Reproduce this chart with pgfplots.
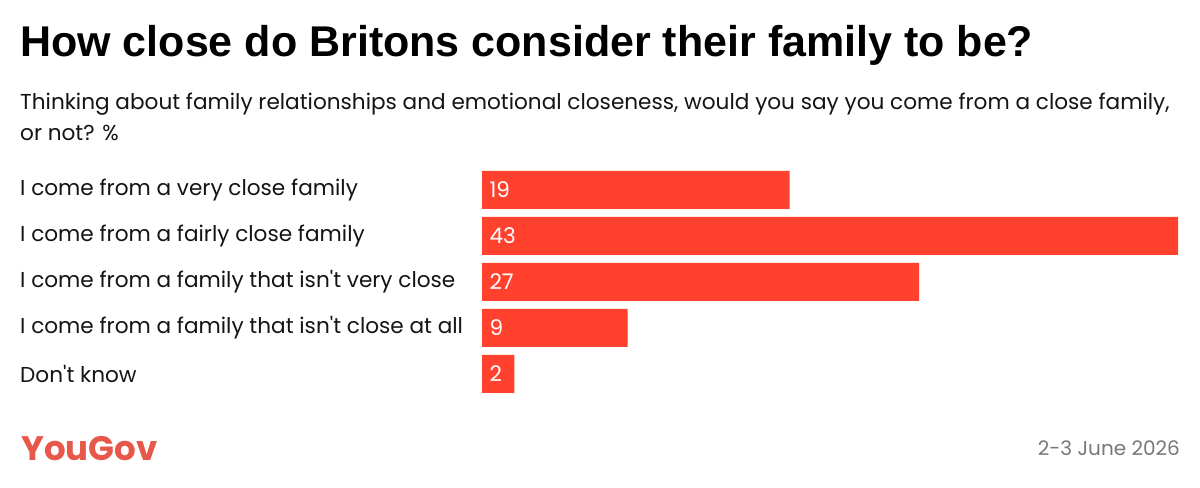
\documentclass[border=0pt]{standalone}
\usepackage{pgfplots}
\pgfplotsset{compat=1.18}
\usepackage{fontspec}
\setmainfont{Poppins}
\newfontfamily\titlefont{Liberation Sans}
\definecolor{barred}{RGB}{255,65,45}
\definecolor{logored}{RGB}{232,88,74}
\definecolor{dategray}{RGB}{120,120,120}
\definecolor{txt}{RGB}{20,20,20}
\begin{document}
\begin{tikzpicture}[x=1bp,y=1bp]
\path[fill=white] (0,0) rectangle (1200,488);
\node[anchor=base west, inner sep=0, font=\titlefont\fontsize{43bp}{46bp}\selectfont\bfseries, text=black] at (20,488-57) {How close do Britons consider their family to be?};
\node[anchor=base west, inner sep=0, font=\fontsize{21.6bp}{24bp}\selectfont, text=txt] at (20,488-110) {Thinking about family relationships and emotional closeness, would you say you come from a close family,};
\node[anchor=base west, inner sep=0, font=\fontsize{21.6bp}{24bp}\selectfont, text=txt] at (20,488-141) {or not? \%};
\begin{axis}[
  at={(482bp,91bp)}, anchor=south west,
  scale only axis, width=696bp, height=230bp,
  xbar, bar width=38bp, bar shift=0pt,
  xmin=0, xmax=43, ymin=-0.5, ymax=4.5,
  y dir=reverse,
  axis line style={draw=none},
  major tick length=0pt,
  xtick=\empty,
  ytick={0,1,2,3,4},
  yticklabels={I come from a very close family, I come from a fairly close family, I come from a family that isn\textquotesingle t very close, I come from a family that isn\textquotesingle t close at all, Don\textquotesingle t know},
  yticklabel style={anchor=west, inner xsep=0pt, xshift=-462bp, font=\fontsize{21.6bp}{24bp}\selectfont, text=txt},
  clip=false,
]
\addplot[fill=barred, draw=none] coordinates {(19,0) (43,1) (27,2) (9,3) (2,4)};
\addplot[draw=none, fill=none, mark=none, nodes near coords, point meta=explicit symbolic,
  nodes near coords style={anchor=west, text=white, xshift=4bp, font=\fontsize{21.5bp}{24bp}\selectfont}]
  coordinates {(0,0)[19] (0,1)[43] (0,2)[27] (0,3)[9] (0,4)[2]};
\end{axis}
\node[anchor=base west, inner sep=0, font=\fontsize{34bp}{36bp}\selectfont\bfseries, text=logored] at (21,488-461) {YouGov};
\node[anchor=base east, inner sep=0, font=\fontsize{20bp}{24bp}\selectfont, text=dategray] at (1180,488-456) {2-3 June 2026};
\end{tikzpicture}
\end{document}
